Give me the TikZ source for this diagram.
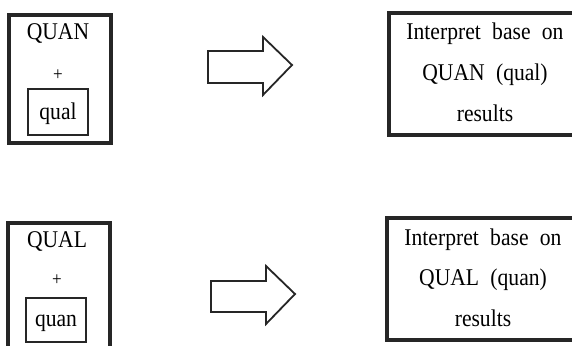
\documentclass[tikz,border=0pt]{standalone}
\usepackage{fontspec}
\setmainfont{Liberation Serif}[FakeStretch=0.9, WordSpace=2.1]
\usetikzlibrary{positioning}
\tikzset{
    outerBox/.style={draw=black!85, line width=3.2pt, inner sep=0pt},
    innerBox/.style={draw=black!85, line width=2.8pt, inner sep=0pt, minimum width=60pt},
    boxText/.style={anchor=base, inner sep=0pt, font=\fontsize{24}{28}\selectfont},
    plusText/.style={inner sep=0pt, font=\fontsize{19}{22}\selectfont},
    blockArrow/.style={draw=black!85, line width=1.8pt, line join=miter}
}

\begin{document}
\begin{tikzpicture}[x=1pt, y=-1pt]
    \useasboundingbox (0,0) rectangle (572,345);
    \clip (0,0) rectangle (572,345);
    % --- Row 1: QUAN + qual ---
    \node[outerBox, minimum width=102pt, minimum height=128pt] (quanBox) at (60,79) {};
    \node[boxText] (quanTxt) at (58,40) {QUAN};
    \node[plusText] (quanPlus) at (58,75) {+};
    \node[innerBox, minimum height=46pt] (qualIn) at (58,112) {};
    \node[boxText] (qualTxt) at (58,119) {qual};
    \coordinate (arrA) at (208,51);
    \draw[blockArrow] (arrA) -- ++(55,0) -- ++(0,-14) -- ++(29,28) -- ++(-29,30)
        -- ++(0,-12) -- ++(-55,0) -- cycle;
    \node[outerBox, minimum width=192pt, minimum height=122pt] (resA) at (485,74) {};
    \node[boxText] (resA1) at (485,40) {Interpret base on};
    \node[boxText] (resA2) at (485,80.5) {QUAN (qual)};
    \node[boxText] (resA3) at (485,121) {results};
    % --- Row 2: QUAL + quan ---
    \node[outerBox, minimum width=102pt, minimum height=128pt] (qualBox) at (59,287) {};
    \node[boxText] (qualHead) at (57,247) {QUAL};
    \node[plusText] (qualPlus) at (57,280) {+};
    \node[innerBox, minimum height=44pt] (quanIn) at (56,320) {};
    \node[boxText] (quanSub) at (56,326) {quan};
    \coordinate (arrB) at (211,281);
    \draw[blockArrow] (arrB) -- ++(55,0) -- ++(0,-15) -- ++(29,28) -- ++(-29,30)
        -- ++(0,-12) -- ++(-55,0) -- cycle;
    \node[outerBox, minimum width=192pt, minimum height=122pt] (resB) at (483,279) {};
    \node[boxText] (resB1) at (483,245) {Interpret base on};
    \node[boxText] (resB2) at (483,285.5) {QUAL (quan)};
    \node[boxText] (resB3) at (483,326) {results};
\end{tikzpicture}
\end{document}
